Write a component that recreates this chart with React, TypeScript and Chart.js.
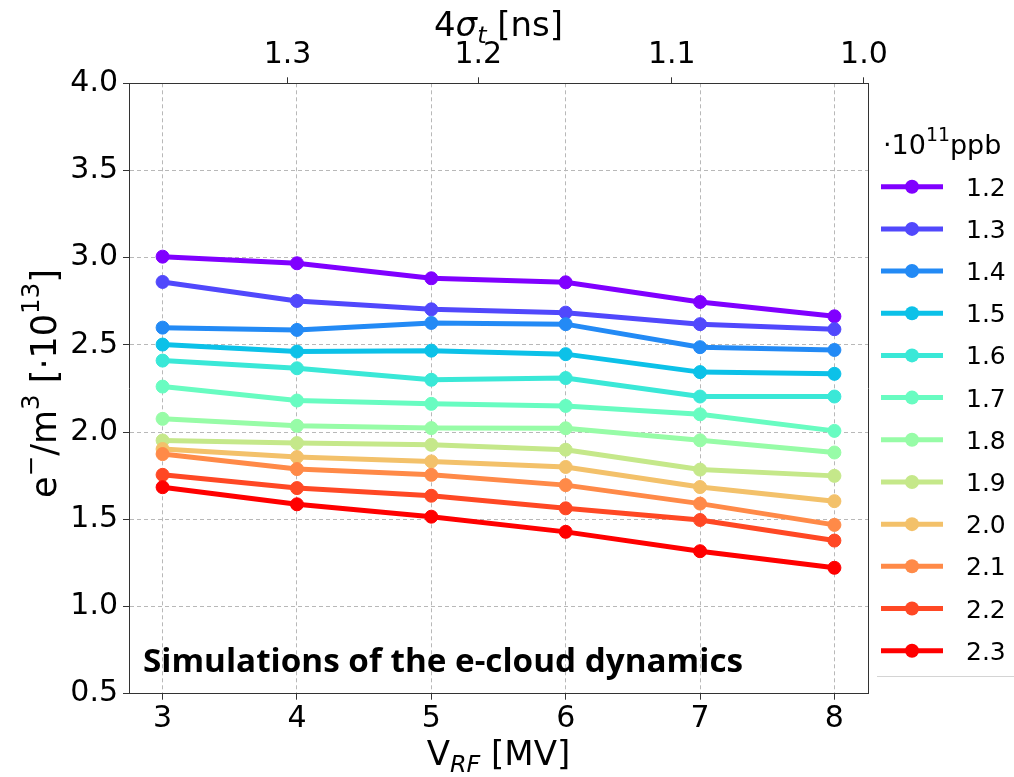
import React, { useEffect, useRef } from "react";
import { Chart, registerables } from "chart.js";

Chart.register(...registerables);

// RF voltage (MV) on the bottom axis
const voltages = [3, 4, 5, 6, 7, 8];

// Bunch intensities in units of 1e11 protons per bunch
const intensities = ["1.2", "1.3", "1.4", "1.5", "1.6", "1.7", "1.8", "1.9", "2.0", "2.1", "2.2", "2.3"];

// Electron density (1e13 e-/m^3) for each intensity, one value per voltage
const density_1_2 = [3.006, 2.968, 2.882, 2.859, 2.746, 2.664];
const density_1_3 = [2.861, 2.752, 2.704, 2.685, 2.619, 2.59];
const density_1_4 = [2.599, 2.586, 2.626, 2.619, 2.487, 2.471];
const density_1_5 = [2.502, 2.462, 2.467, 2.447, 2.344, 2.334];
const density_1_6 = [2.41, 2.366, 2.3, 2.31, 2.204, 2.204];
const density_1_7 = [2.261, 2.181, 2.162, 2.15, 2.102, 2.007];
const density_1_8 = [2.076, 2.036, 2.023, 2.022, 1.953, 1.883];
const density_1_9 = [1.952, 1.937, 1.927, 1.899, 1.785, 1.749];
const density_2_0 = [1.903, 1.857, 1.832, 1.8, 1.685, 1.604];
const density_2_1 = [1.874, 1.788, 1.755, 1.696, 1.59, 1.468];
const density_2_2 = [1.755, 1.679, 1.635, 1.563, 1.496, 1.378];
const density_2_3 = [1.684, 1.586, 1.515, 1.428, 1.317, 1.222];

const densitySeries = [
  density_1_2, density_1_3, density_1_4, density_1_5, density_1_6, density_1_7,
  density_1_8, density_1_9, density_2_0, density_2_1, density_2_2, density_2_3,
];

// Colours sampled from the "rainbow" colormap, purple to red
const seriesColors = [
  "#8000ff", "#5148fc", "#238af5", "#0cc1e8", "#3ae8d7", "#68fcc1",
  "#97fca7", "#c5e88a", "#f3c16a", "#ff8a48", "#ff4824", "#ff0000",
];

// Left axis ticks
const yTickValues = [0.5, 1.0, 1.5, 2.0, 2.5, 3.0, 3.5, 4.0];

// Top axis: bunch length 4*sigma_t (ns) placed at the matching RF voltage
const sigmaTickLabels = ["1.3", "1.2", "1.1", "1.0"];
const sigmaTickVoltages = [3.93, 5.35, 6.79, 8.22];

const TICK_FONT = "DejaVu Sans";

type Run = { t: string; mode?: "sup" | "sub"; italic?: boolean };

function runFont(r: Run, size: number) {
  const s = r.mode ? size * 0.7 : size;
  return `${r.italic ? "italic " : ""}${s}px "DejaVu Sans"`;
}

function measureRuns(ctx: CanvasRenderingContext2D, runs: Run[], size: number) {
  let w = 0;
  for (const r of runs) {
    ctx.font = runFont(r, size);
    w += ctx.measureText(r.t).width;
  }
  return w;
}

// Draws a line of text with super/subscripts; x is the left edge, y the baseline
function drawRuns(ctx: CanvasRenderingContext2D, runs: Run[], x: number, y: number, size: number) {
  let cx = x;
  ctx.textAlign = "left";
  ctx.textBaseline = "alphabetic";
  for (const r of runs) {
    ctx.font = runFont(r, size);
    const dy = r.mode === "sup" ? -size * 0.48 : r.mode === "sub" ? size * 0.2 : 0;
    ctx.fillText(r.t, cx, y + dy);
    cx += ctx.measureText(r.t).width;
  }
}

const yTitle: Run[] = [
  { t: "e" }, { t: "\u2212", mode: "sup" }, { t: "/m" }, { t: "3", mode: "sup" },
  { t: " [\u00b710" }, { t: "13", mode: "sup" }, { t: "]" },
];
const xTitle: Run[] = [{ t: "V" }, { t: "RF", mode: "sub", italic: true }, { t: " [MV]" }];
const topTitle: Run[] = [{ t: "4" }, { t: "\u03c3", italic: true }, { t: "t", mode: "sub", italic: true }, { t: " [ns]" }];
const legendTitle: Run[] = [{ t: "\u00b710" }, { t: "11", mode: "sup" }, { t: "ppb" }];

const annotationText = "Simulations of the e-cloud dynamics";

const decorations = {
  id: "decorations",
  afterDraw(chart: Chart) {
    const ctx = chart.ctx;
    const area = chart.chartArea;
    const midX = (area.left + area.right) / 2;
    const midY = (area.top + area.bottom) / 2;
    ctx.save();
    ctx.fillStyle = "#000";

    // Axis titles
    const axisSize = 34;
    let w = measureRuns(ctx, xTitle, axisSize);
    drawRuns(ctx, xTitle, midX - w / 2, 765, axisSize);

    w = measureRuns(ctx, topTitle, axisSize);
    drawRuns(ctx, topTitle, midX - w / 2, 36, axisSize);

    const ySize = 35;
    w = measureRuns(ctx, yTitle, ySize);
    ctx.save();
    ctx.translate(56, midY - 5);
    ctx.rotate(-Math.PI / 2);
    drawRuns(ctx, yTitle, -w / 2, 0, ySize);
    ctx.restore();

    // Annotation inside the plot
    ctx.font = 'bold 32px "Open Sans", "Liberation Sans", sans-serif';
    ctx.textAlign = "left";
    ctx.textBaseline = "alphabetic";
    const tw = ctx.measureText(annotationText).width;
    ctx.save();
    ctx.translate(143, 672);
    ctx.scale(600 / tw, 1);
    ctx.fillText(annotationText, 0, 0);
    ctx.restore();

    // Legend
    const legendSize = 25;
    ctx.fillStyle = "#000";
    drawRuns(ctx, legendTitle, 883, 154, 27);
    const rowTop = 186.7;
    const rowStep = 42.18;
    intensities.forEach((label, i) => {
      const y = rowTop + i * rowStep;
      const c = seriesColors[i];
      ctx.strokeStyle = c;
      ctx.lineWidth = 5;
      ctx.beginPath();
      ctx.moveTo(881, y);
      ctx.lineTo(943, y);
      ctx.stroke();
      ctx.fillStyle = c;
      ctx.beginPath();
      ctx.arc(912, y, 7, 0, Math.PI * 2);
      ctx.fill();
      ctx.fillStyle = "#000";
      ctx.font = `${legendSize}px "DejaVu Sans"`;
      ctx.textAlign = "left";
      ctx.textBaseline = "alphabetic";
      ctx.fillText(label, 966, y + 9);
    });
    ctx.strokeStyle = "#d4d4d4";
    ctx.lineWidth = 1;
    ctx.beginPath();
    ctx.moveTo(877, 676.5);
    ctx.lineTo(1014, 676.5);
    ctx.stroke();

    ctx.restore();
  },
};

export default function App() {
  const canvasRef = useRef<HTMLCanvasElement | null>(null);

  useEffect(() => {
    const canvas = canvasRef.current;
    if (!canvas) return;

    const datasets = densitySeries.map((values, i) => ({
      label: intensities[i],
      data: values.map((v, j) => ({ x: voltages[j], y: v })),
      borderColor: seriesColors[i],
      backgroundColor: seriesColors[i],
      pointBackgroundColor: seriesColors[i],
      pointBorderColor: seriesColors[i],
      borderWidth: 5,
      pointRadius: 6.5,
      pointBorderWidth: 1,
      tension: 0,
      order: densitySeries.length - i,
    }));

    const tickFont = { family: TICK_FONT, size: 30 };
    const axisGrid = {
      color: "#b8b8b8",
      lineWidth: 1,
      tickColor: "#333",
      tickLength: 6,
      tickWidth: 1,
    };
    const axisBorder = { display: true, color: "#333", width: 1, dash: [4, 3] };

    const chart = new Chart(canvas, {
      type: "line",
      data: { datasets },
      plugins: [decorations],
      options: {
        animation: false,
        responsive: false,
        devicePixelRatio: 1,
        layout: { padding: { left: 0, right: 146, top: 0, bottom: 0 } },
        plugins: { legend: { display: false }, tooltip: { enabled: false } },
        scales: {
          x: {
            type: "linear",
            position: "bottom",
            min: 2.75,
            max: 8.25,
            afterBuildTicks: (axis: any) => {
              axis.ticks = voltages.map((v) => ({ value: v }));
            },
            afterFit: (axis: any) => {
              axis.height = 83.3;
            },
            ticks: {
              font: tickFont,
              color: "#000",
              padding: 2,
              maxRotation: 0,
              autoSkip: false,
              callback: (v: any) => String(v),
            },
            grid: axisGrid,
            border: axisBorder,
          },
          x2: {
            type: "linear",
            position: "top",
            min: 2.75,
            max: 8.25,
            afterBuildTicks: (axis: any) => {
              axis.ticks = sigmaTickVoltages.map((v) => ({ value: v }));
            },
            afterFit: (axis: any) => {
              axis.height = 83.3;
            },
            ticks: {
              font: tickFont,
              color: "#000",
              padding: 4,
              maxRotation: 0,
              autoSkip: false,
              callback: (_v: any, i: number) => sigmaTickLabels[i],
            },
            grid: { ...axisGrid, drawOnChartArea: false },
            border: { display: true, color: "#333", width: 1 },
          },
          y: {
            type: "linear",
            position: "left",
            min: 0.5,
            max: 4.0,
            afterBuildTicks: (axis: any) => {
              axis.ticks = yTickValues.map((v) => ({ value: v }));
            },
            afterFit: (axis: any) => {
              axis.width = 129;
            },
            ticks: {
              font: tickFont,
              color: "#000",
              padding: 5,
              callback: (v: any) => Number(v).toFixed(1),
            },
            grid: axisGrid,
            border: axisBorder,
          },
          y2: {
            type: "linear",
            position: "right",
            min: 0.5,
            max: 4.0,
            afterFit: (axis: any) => {
              axis.width = 0;
            },
            ticks: { display: false },
            grid: { display: false },
            border: { display: true, color: "#333", width: 1 },
          },
        },
      },
    });

    return () => chart.destroy();
  }, []);

  return (
    <div style={{ position: "fixed", left: 0, top: 0, width: 1014, height: 777, background: "#fff" }}>
      <canvas ref={canvasRef} width={1014} height={777} style={{ display: "block" }} />
    </div>
  );
}
